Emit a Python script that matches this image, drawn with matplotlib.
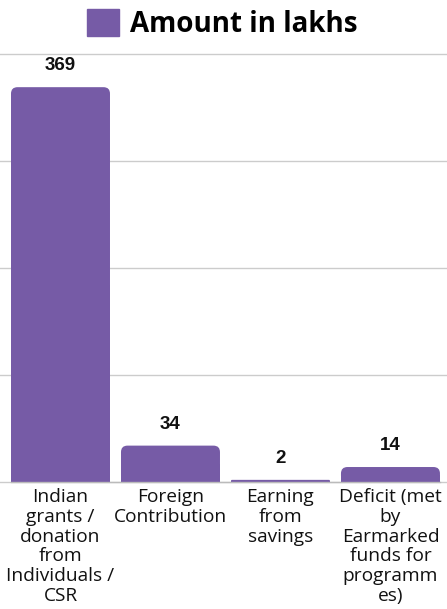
import matplotlib
matplotlib.use("Agg")
import matplotlib.pyplot as plt
import matplotlib.patches as mpatches
from matplotlib.patches import FancyBboxPatch, Rectangle

categories = ["Indian\ngrants /\ndonation\nfrom\nIndividuals /\nCSR",
              "Foreign\nContribution",
              "Earning\nfrom\nsavings",
              "Deficit (met\nby\nEarmarked\nfunds for\nprogramm\nes)"]
values = [369, 34, 2, 14]
series_name = "Amount in lakhs"
yticks = [0, 100, 200, 300, 400]

color = "#765BA6"
W, H = 447, 609
fig = plt.figure(figsize=(W / 100, H / 100), dpi=100)
ax = fig.add_axes([0, 1 - 482 / H, 1, 428 / H])
ax.set_xlim(-0.55, 3.514)
ax.set_ylim(0, 400)

x = list(range(len(values)))
bars = ax.bar(x, values, width=0.9, color=color, zorder=2)

# rounded top corners
fig.canvas.draw()
px_per_x = ax.transData.transform((1, 0))[0] - ax.transData.transform((0, 0))[0]
px_per_y = ax.transData.transform((0, 1))[1] - ax.transData.transform((0, 0))[1]
aspect = px_per_x / px_per_y
r_px = 6.5
for b in bars:
    b.set_visible(False)
    bx, bw, bh = b.get_x(), b.get_width(), b.get_height()
    r = min(r_px / px_per_x, bh / aspect / 2)
    ax.add_patch(FancyBboxPatch((bx, 0), bw, bh,
                                boxstyle=f"round,pad=0,rounding_size={r}",
                                mutation_aspect=aspect, fc=color, ec="none", zorder=2))
    ax.add_patch(Rectangle((bx, 0), bw, bh / 2, fc=color, ec="none", zorder=2))
    ax.annotate(f"{int(bh)}", (bx + bw / 2, bh), xytext=(0, 13), textcoords="offset pixels",
                ha="center", va="bottom", fontsize=13.5, fontweight="bold",
                family="Liberation Sans", color="#111111")

ax.set_yticks(yticks)
ax.yaxis.grid(True, color="#cccccc", linewidth=1, zorder=0)
for gl in ax.yaxis.get_gridlines():
    gl.set_clip_on(False)
ax.tick_params(axis="y", left=False, labelleft=False)
ax.set_xticks(x)
ax.set_xticklabels(categories, fontsize=13.8, family="Open Sans",
                   linespacing=1.12, color="#111111")
ax.tick_params(axis="x", length=0, pad=4.5)
for s in ["top", "right", "left", "bottom"]:
    ax.spines[s].set_visible(False)
ax.plot([bars[0].get_x(), bars[-1].get_x() + bars[-1].get_width()], [0, 0],
        color="#bbbbbb", lw=1, zorder=3, clip_on=False)

handle = mpatches.Patch(color=color)
fig.legend([handle], [series_name], loc="center", bbox_to_anchor=(222 / W, 1 - 24 / H),
           frameon=False, prop={"family": "Open Sans", "weight": "bold", "size": 20},
           handlelength=1.15, handleheight=1.15, handletextpad=0.38, borderpad=0)

fig.savefig("out.png", dpi=100)
